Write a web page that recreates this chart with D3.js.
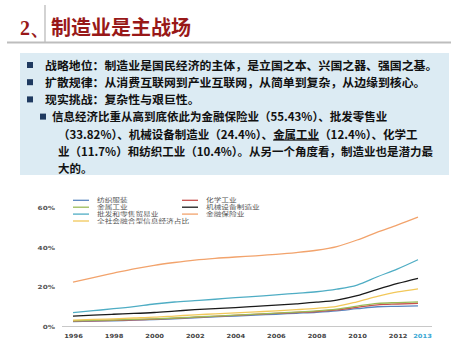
<!DOCTYPE html>
<html><head><meta charset="utf-8">
<script src="https://cdn.jsdelivr.net/npm/d3@7"></script>
<style>
html,body{margin:0;padding:0;background:#fff;}
svg{display:block;}
</style></head>
<body>
<svg id="c" width="460" height="345"></svg>
<script>
const years = [1996,1997,1998,1999,2000,2001,2002,2003,2004,2005,2006,2007,2008,2009,2010,2011,2012,2013];
const tickYears = [1996,1998,2000,2002,2004,2006,2008,2010,2012,2013];
const yTicks = [0,20,40,60];
const seriesNames = ["纺织服装","化学工业","金属工业","机械设备制造业","批发和零售贸易业","金融保险业","全社会融合型信息经济占比"];
const seriesColors = ["#5A86C0","#C8514E","#9BBB59","#1a1a1a","#4FADC4","#F2A36C","#F2C85A"];
const textile   = [2.5,2.7,2.9,3.2,3.5,3.9,4.4,4.9,5.3,5.8,6.2,6.7,7.2,7.9,9.0,10.0,10.2,10.4];
const chemical  = [2.7,2.9,3.1,3.4,3.7,4.1,4.6,5.1,5.6,6.1,6.6,7.1,7.6,8.4,9.7,11.0,11.4,11.7];
const metal     = [2.9,3.1,3.3,3.6,3.9,4.3,4.8,5.3,5.8,6.3,6.8,7.3,7.9,8.8,10.3,11.7,12.1,12.4];
const machinery = [5.3,5.8,6.2,6.6,7.1,7.8,8.5,9.1,9.6,10.2,10.8,11.5,12.3,13.4,15.6,18.8,21.8,24.4];
const wholesale = [7.0,8.0,9.0,10.1,11.4,12.4,13.1,13.8,14.6,15.3,16.0,16.8,17.6,18.9,21.0,25.2,29.2,33.82];
const finance   = [22.5,24.8,27.0,29.2,31.0,32.4,33.6,34.5,35.2,35.8,36.5,37.4,38.6,40.5,43.8,47.8,51.5,55.43];
const overall   = [3.2,3.6,3.9,4.3,4.7,5.3,5.9,6.4,6.9,7.4,7.9,8.5,9.2,10.2,12.5,15.2,17.5,19.1];
const seriesValues = [textile,chemical,metal,machinery,wholesale,finance,overall];

const titleNum = "2、";
const titleText = "制造业是主战场";
const bulletLines = [
  {lvl:1, parts:[{t:"战略地位：制造业是国民经济的主体，是立国之本、兴国之器、强国之基。"}]},
  {lvl:1, parts:[{t:"扩散规律：从消费互联网到产业互联网，从简单到复杂，从边缘到核心。"}]},
  {lvl:1, parts:[{t:"现实挑战：复杂性与艰巨性。"}]},
  {lvl:2, bullet:true, parts:[{t:"信息经济比重从高到底依此为金融保险业（55.43%）、批发零售业"}]},
  {lvl:2, parts:[{t:"（33.82%）、机械设备制造业（24.4%）、"},{t:"金属工业",u:true},{t:"（12.4%）、化学工"}]},
  {lvl:2, parts:[{t:"业（11.7%）和纺织工业（10.4%）。从另一个角度看，制造业也是潜力最"}]},
  {lvl:2, parts:[{t:"大的。"}]}
];

const svg = d3.select("#c");
const CJK = "'Noto Sans CJK SC','Noto Sans',sans-serif";

// Title
svg.append("line").attr("x1",45).attr("x2",45).attr("y1",5).attr("y2",42).attr("stroke","#b5b5b5").attr("stroke-width",1.2);
svg.append("line").attr("x1",7).attr("x2",451).attr("y1",42.5).attr("y2",42.5).attr("stroke","#bdbdbd").attr("stroke-width",2);
svg.append("text").attr("x",20).attr("y",35).attr("font-family","'Liberation Serif',serif").attr("font-weight","bold")
  .attr("font-size",20).attr("fill","#981818").text(titleNum);
svg.append("text").attr("x",51).attr("y",35).attr("font-family",CJK).attr("font-weight","bold")
  .attr("font-size",20).attr("fill","#981818").text(titleText);

// Text box
svg.append("rect").attr("x",20).attr("y",53).attr("width",429).attr("height",122).attr("fill","#DCEBF3");
const lineY0 = 65.5, lineDy = 17.2;
bulletLines.forEach((ln,i)=>{
  const y = lineY0 + i*lineDy;
  let bx, tx;
  if(ln.lvl===1){ bx=27; tx=45; }
  else { bx=40; tx = ln.bullet ? 52 : 58; }
  if(ln.lvl===1 || ln.bullet){
    svg.append("rect").attr("x",bx).attr("y",y-3.5).attr("width",6).attr("height",6).attr("fill","#1F3A60");
  }
  const t = svg.append("text").attr("x",tx).attr("y",y+4.2).attr("font-family",CJK).attr("font-weight","bold")
    .attr("font-size", ln.lvl===1?11.9:11.5).attr("fill","#111");
  ln.parts.forEach(p=>{
    const ts = t.append("tspan").text(p.t);
    if(p.u) ts.attr("text-decoration","underline");
  });
});

// Chart
const x = d3.scaleLinear().domain([1996,2013]).range([73,418]);
const y = d3.scaleLinear().domain([0,60]).range([326.5,208]);

svg.append("line").attr("x1",62).attr("x2",432).attr("y1",y(0)).attr("y2",y(0)).attr("stroke","#c8c8c8").attr("stroke-width",1);

const yAxis = svg.append("g").attr("transform","translate(55,0)")
  .call(d3.axisLeft(y).tickValues(yTicks).tickSize(0).tickPadding(0).tickFormat(d=>d+"%"));
yAxis.select(".domain").remove();
yAxis.selectAll(".tick text").attr("x",0).attr("font-family","'DejaVu Sans',sans-serif").attr("font-size",5.6)
  .attr("fill","#555").attr("font-weight","bold").attr("transform","scale(1.3,1)");

const xAxis = svg.append("g").attr("transform",`translate(0,${y(0)+5})`)
  .call(d3.axisBottom(x).tickValues(tickYears).tickSize(0).tickFormat(d3.format("d")));
xAxis.select(".domain").remove();
xAxis.selectAll(".tick text").attr("font-family","'DejaVu Sans',sans-serif").attr("font-size",5.6).attr("font-weight","bold")
  .attr("fill",d=>d===2013?"#3BA7D4":"#444")
  .attr("transform",d=>d===2013?"translate(4,0) scale(1.2,1)":"scale(1.2,1)");

const line = d3.line().x((d,i)=>x(years[i])).y(d=>y(d)).curve(d3.curveMonotoneX);
seriesValues.forEach((vals,k)=>{
  svg.append("path").attr("d",line(vals)).attr("fill","none").attr("stroke",seriesColors[k]).attr("stroke-width",1.3);
});

// Legend
const legendOrder = [[0,2,4,6],[1,3,5]];
const colX = [73,182];
const rowY = [200.3,207.2,214.1,221];
legendOrder.forEach((col,ci)=>{
  col.forEach((si,ri)=>{
    const g = svg.append("g");
    g.append("line").attr("x1",colX[ci]).attr("x2",colX[ci]+16).attr("y1",rowY[ri]).attr("y2",rowY[ri])
      .attr("stroke",seriesColors[si]).attr("stroke-width",1.3);
    g.append("text").attr("transform",`translate(${colX[ci]+24},${rowY[ri]+2}) scale(1.45,1)`)
      .attr("font-family",CJK).attr("font-size",5.3)
      .attr("fill","#555").text(seriesNames[si]);
  });
});
</script>
</body></html>
